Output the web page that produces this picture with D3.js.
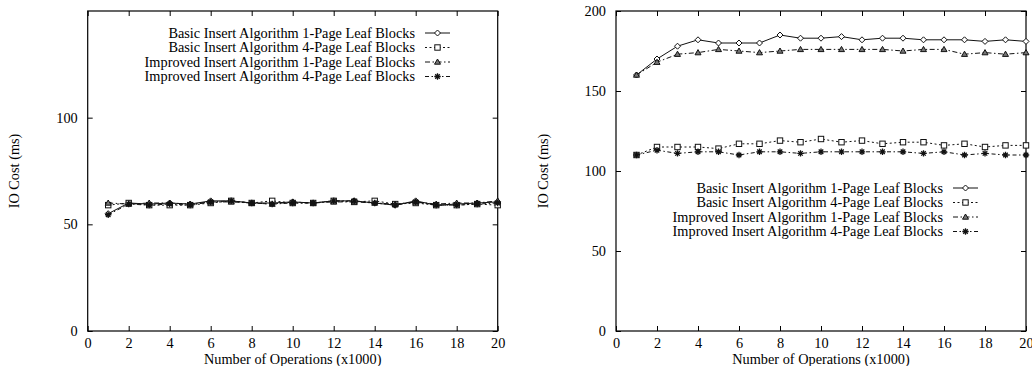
<!DOCTYPE html>
<html>
<head>
<meta charset="utf-8">
<script src="https://cdn.jsdelivr.net/npm/d3@7"></script>
<style>
  html, body { margin: 0; padding: 0; background: #fff; }
  svg text { font-family: "Liberation Serif", "Times New Roman", serif; font-size: 14.3px; fill: #000; }
</style>
</head>
<body>
<div id="chart"></div>
<script>
var width = 1032
var height = 366

// ---- data ----
var ops = [1, 2, 3, 4, 5, 6, 7, 8, 9, 10, 11, 12, 13, 14, 15, 16, 17, 18, 19, 20];
var xTicks = [0, 2, 4, 6, 8, 10, 12, 14, 16, 18, 20];

var seriesNames = [
  'Basic Insert Algorithm 1-Page Leaf Blocks',
  'Basic Insert Algorithm 4-Page Leaf Blocks',
  'Improved Insert Algorithm 1-Page Leaf Blocks',
  'Improved Insert Algorithm 4-Page Leaf Blocks'
];

// left plot
var leftYTicks = [0, 50, 100];
var leftBasic1 = [55, 60, 59.5, 60, 59.5, 61, 61, 60, 60, 60.5, 60, 61, 61, 60, 59, 61, 59, 59.5, 60, 60.5];
var leftBasic4 = [59, 60, 59, 59, 59, 60, 61, 60, 61, 60, 60, 61, 60.5, 61, 59.5, 60, 59, 59, 59.5, 59];
var leftImproved1 = [60, 59.5, 60, 60, 59.5, 60.5, 60.5, 60, 59.5, 60.5, 60, 60.5, 60.5, 60, 59.5, 60.5, 59.5, 60, 60, 61];
var leftImproved4 = [54.5, 59.5, 59, 59.5, 59, 60.5, 61, 60, 59.5, 60, 60, 61, 61, 60, 59, 60.5, 59, 59, 59.5, 60];

// right plot
var rightYTicks = [0, 50, 100, 150, 200];
var rightBasic1 = [160, 170, 178, 182, 180, 180, 180, 185, 183, 183, 184, 182, 183, 183, 182, 182, 182, 181, 182, 181];
var rightBasic4 = [110, 115, 115, 115, 114, 117, 117, 119, 118, 120, 118, 119, 117, 118, 118, 116, 117, 115, 116, 116];
var rightImproved1 = [160, 168, 173, 174, 176, 175, 174, 175, 176, 176, 176, 176, 176, 175, 176, 176, 173, 174, 173, 174];
var rightImproved4 = [110, 113, 111, 112, 112, 110, 112, 112, 111, 112, 112, 112, 112, 112, 111, 112, 110, 111, 110, 110];

// ---- styles ----
var lineStyles = [
  { dash: null, marker: 'diamond' },
  { dash: '2,2.5', marker: 'square' },
  { dash: '5,2.5,1.5,2.5', marker: 'triangle' },
  { dash: '4,2.5,1.5,2.5', marker: 'star' }
];

var svg = d3.select('#chart')
            .append('svg')
            .attr('width', width)
            .attr('height', height);

function drawMarker(g, type, x, y) {
  if (type == 'diamond') {
    g.append('path')
     .attr('d', 'M' + x + ',' + (y - 3) + 'L' + (x + 3) + ',' + y + 'L' + x + ',' + (y + 3) + 'L' + (x - 3) + ',' + y + 'Z')
     .attr('fill', '#fff').attr('stroke', '#111').attr('stroke-width', 1);
  } else if (type == 'square') {
    g.append('rect')
     .attr('x', x - 2.7).attr('y', y - 2.7).attr('width', 5.4).attr('height', 5.4)
     .attr('fill', '#fff').attr('stroke', '#111').attr('stroke-width', 1);
  } else if (type == 'triangle') {
    g.append('path')
     .attr('d', 'M' + x + ',' + (y - 3) + 'L' + (x + 3) + ',' + (y + 2.2) + 'L' + (x - 3) + ',' + (y + 2.2) + 'Z')
     .attr('fill', '#777').attr('stroke', '#111').attr('stroke-width', 1);
  } else if (type == 'star') {
    var r = 3.2;
    var d = '';
    [0, 45, 90, 135].forEach(function (a) {
      var rad = a * Math.PI / 180;
      d += 'M' + (x - r * Math.cos(rad)) + ',' + (y - r * Math.sin(rad)) + 'L' + (x + r * Math.cos(rad)) + ',' + (y + r * Math.sin(rad));
    });
    g.append('path').attr('d', d).attr('stroke', '#111').attr('stroke-width', 1.3).attr('fill', 'none');
  }
}

function panel(opts) {
  var x = d3.scaleLinear().domain([0, 20]).range([opts.left, opts.right]);
  var y = d3.scaleLinear().domain([0, opts.ymax]).range([opts.bottom, opts.top]);
  var g = svg.append('g');
  var tickLen = 5;

  // frame
  g.append('rect')
   .attr('x', opts.left).attr('y', opts.top)
   .attr('width', opts.right - opts.left).attr('height', opts.bottom - opts.top)
   .attr('fill', 'none').attr('stroke', '#000').attr('stroke-width', 1.2);

  // x ticks (bottom + mirrored top)
  var bottomAxis = d3.axisBottom(x).tickValues(xTicks).tickSize(-tickLen).tickPadding(7).tickFormat(d3.format('d'));
  var gx = g.append('g').attr('transform', 'translate(0,' + opts.bottom + ')').call(bottomAxis);
  var topAxis = d3.axisTop(x).tickValues(xTicks).tickSize(-tickLen).tickFormat('');
  var gxt = g.append('g').attr('transform', 'translate(0,' + opts.top + ')').call(topAxis);

  // y ticks (left + mirrored right)
  var leftAxis = d3.axisLeft(y).tickValues(opts.yticks).tickSize(-tickLen).tickPadding(10);
  var gy = g.append('g').attr('transform', 'translate(' + opts.left + ',0)').call(leftAxis);
  var rightAxis = d3.axisRight(y).tickValues(opts.yticks).tickSize(-tickLen).tickFormat('');
  var gyr = g.append('g').attr('transform', 'translate(' + opts.right + ',0)').call(rightAxis);

  [gx, gxt, gy, gyr].forEach(function (a) {
    a.select('.domain').remove();
    a.selectAll('line').attr('stroke', '#000');
    a.selectAll('text').attr('font-family', null).attr('font-size', null).attr('fill', null);
  });

  // axis titles
  g.append('text')
   .attr('x', (opts.left + opts.right) / 2).attr('y', 364)
   .attr('text-anchor', 'middle')
   .text('Number of Operations (x1000)');

  g.append('text')
   .attr('transform', 'translate(' + opts.ylabelX + ',' + ((opts.top + opts.bottom) / 2) + ') rotate(-90)')
   .attr('text-anchor', 'middle')
   .text('IO Cost (ms)');

  // series
  var line = d3.line()
               .x(function (d, i) { return x(ops[i]); })
               .y(function (d) { return y(d); });

  opts.series.forEach(function (vals, s) {
    var st = lineStyles[s];
    g.append('path')
     .attr('d', line(vals))
     .attr('fill', 'none')
     .attr('stroke', '#111')
     .attr('stroke-width', 1)
     .attr('stroke-dasharray', st.dash);
    vals.forEach(function (v, i) {
      drawMarker(g, st.marker, x(ops[i]), y(v));
    });
  });

  // legend
  seriesNames.forEach(function (name, s) {
    var ly = opts.legendTop + s * 14.5;
    var st = lineStyles[s];
    g.append('text')
     .attr('x', opts.legendRight).attr('y', ly + 4.8)
     .attr('text-anchor', 'end')
     .text(name);
    g.append('line')
     .attr('x1', opts.legendRight + 10).attr('x2', opts.legendRight + 35)
     .attr('y1', ly).attr('y2', ly)
     .attr('stroke', '#111').attr('stroke-width', 1)
     .attr('stroke-dasharray', st.dash);
    drawMarker(g, st.marker, opts.legendRight + 22.5, ly);
  });
}

panel({
  left: 87.7, right: 497.7, top: 11, bottom: 331,
  ymax: 150, yticks: leftYTicks,
  series: [leftBasic1, leftBasic4, leftImproved1, leftImproved4],
  ylabelX: 19, legendRight: 415, legendTop: 33
});

panel({
  left: 616, right: 1026, top: 11, bottom: 331,
  ymax: 200, yticks: rightYTicks,
  series: [rightBasic1, rightBasic4, rightImproved1, rightImproved4],
  ylabelX: 548, legendRight: 943, legendTop: 188
});
</script>
</body>
</html>
